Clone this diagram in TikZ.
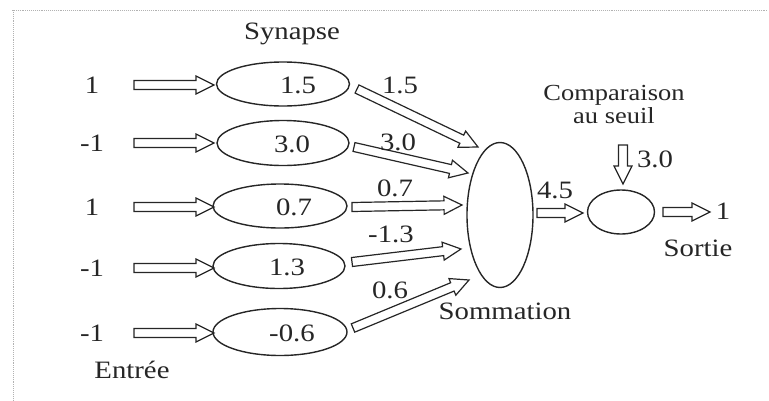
\documentclass[tikz,border=0pt]{standalone}
\usepackage{fontspec}
\setmainfont{Liberation Serif}[FakeStretch=1.15]
\usetikzlibrary{shapes.geometric,calc}
\tikzset{
  lbl/.style={inner sep=0pt, font=\fontsize{25}{29}\selectfont, text=black!85},
  small/.style={inner sep=0pt, font=\fontsize{23}{27}\selectfont, text=black!85},
  ell/.style={ellipse, draw=black!85, line width=1.4pt, inner sep=0pt},
  harrow/.style={draw=black!85, line width=1.2pt, line join=miter, fill=white},
  frame/.style={draw=gray!60, densely dotted, line width=0.9pt}
}
\newcommand\hollow[3][]{%
  \path ($(#3)!18pt!(#2)$) coordinate (hb);
  \draw[harrow,#1] ($(#2)!4.5pt!90:(#3)$) -- ($(hb)!4.5pt!90:(#3)$) -- ($(hb)!9pt!90:(#3)$) -- (#3) -- ($(hb)!9pt!-90:(#3)$) -- ($(hb)!4.5pt!-90:(#3)$) -- ($(#2)!4.5pt!-90:(#3)$) -- cycle;
}
\begin{document}
\begin{tikzpicture}[x=1pt,y=-1pt]
\useasboundingbox (0,0) rectangle (769,400);
\draw[frame] (12,10) -- (767,10);
\draw[frame] (13,10) -- (13,400);

% titles
\node[lbl] (syn) at (292,34) {Synapse};
\node[lbl] (ent) at (132,370) {Entrée};
\node[lbl] (som) at (505,311) {Sommation};
\node[small, align=center] (cmp) at (614,104) {Comparaison\\[-4pt]au seuil};
\node[lbl] (sor) at (698,248) {Sortie};

% inputs
\node[lbl] (in1) at (92,85) {1};
\node[lbl] (in2) at (92,143) {-1};
\node[lbl] (in3) at (92,207) {1};
\node[lbl] (in4) at (92,268) {-1};
\node[lbl] (in5) at (92,333) {-1};

% synapse ellipses
\node[ell, minimum width=133pt, minimum height=44pt] (w1) at (283,84) {};
\node[ell, minimum width=132pt, minimum height=45pt] (w2) at (283,143) {};
\node[ell, minimum width=134pt, minimum height=44pt] (w3) at (280,206) {};
\node[ell, minimum width=132pt, minimum height=45pt] (w4) at (279,266) {};
\node[ell, minimum width=134pt, minimum height=47pt] (w5) at (280,332) {};
\node[lbl] (t1) at (298,85) {1.5};
\node[lbl] (t2) at (292,144) {3.0};
\node[lbl] (t3) at (294,207) {0.7};
\node[lbl] (t4) at (287,267) {1.3};
\node[lbl] (t5) at (292,333) {-0.6};

% summation and comparison
\node[ell, minimum width=66pt, minimum height=145pt] (sum) at (500,215) {};
\node[ell, minimum width=67pt, minimum height=44pt] (comp) at (621,212) {};

% input arrows
\foreach \i/\y in {1/85,2/143,3/207,4/268,5/333}{
  \coordinate (a\i s) at (134,\y);
  \coordinate (a\i e) at (214,\y);
  \hollow{a\i s}{a\i e}
}

% synapse -> summation arrows
\coordinate (b1s) at (357,89);  \coordinate (b1e) at (478,147);
\coordinate (b2s) at (354,147); \coordinate (b2e) at (468,173);
\coordinate (b3s) at (352,207); \coordinate (b3e) at (462,205);
\coordinate (b4s) at (352,262); \coordinate (b4e) at (461,249);
\coordinate (b5s) at (353,328); \coordinate (b5e) at (469,280);
\hollow{b1s}{b1e}
\hollow{b2s}{b2e}
\hollow{b3s}{b3e}
\hollow{b4s}{b4e}
\hollow{b5s}{b5e}
\node[lbl] (l1) at (400,85) {1.5};
\node[lbl] (l2) at (398,142) {3.0};
\node[lbl] (l3) at (395,188) {0.7};
\node[lbl] (l4) at (391,234) {-1.3};
\node[lbl] (l5) at (390,290) {0.6};

% summation -> comparison
\coordinate (c1s) at (537,213); \coordinate (c1e) at (583,213);
\hollow{c1s}{c1e}
\node[lbl] (l45) at (555,190) {4.5};

% threshold
\coordinate (d1s) at (623,145); \coordinate (d1e) at (623,184);
\hollow{d1s}{d1e}
\node[lbl] (l30) at (655,159) {3.0};

% output
\coordinate (e1s) at (663,212); \coordinate (e1e) at (710,212);
\hollow{e1s}{e1e}
\node[lbl] (out) at (723,211) {1};
\end{tikzpicture}
\end{document}
